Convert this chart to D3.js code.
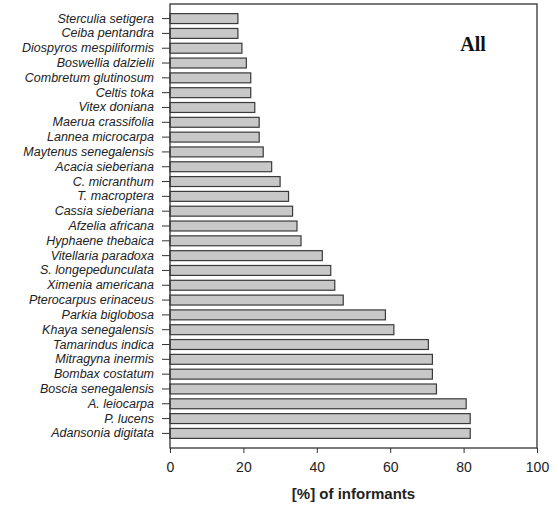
<!DOCTYPE html>
<html>
<head>
<meta charset="utf-8">
<script src="https://cdn.jsdelivr.net/npm/d3@7"></script>
<style>
  body { margin: 0; background: #fff; }
  svg { display: block; }
</style>
</head>
<body>
<div class="graph"></div>
<script>
// species, top to bottom
var species = [
    "Sterculia setigera", "Ceiba pentandra", "Diospyros mespiliformis", "Boswellia dalzielii",
    "Combretum glutinosum", "Celtis toka", "Vitex doniana", "Maerua crassifolia",
    "Lannea microcarpa", "Maytenus senegalensis", "Acacia sieberiana", "C. micranthum",
    "T. macroptera", "Cassia sieberiana", "Afzelia africana", "Hyphaene thebaica",
    "Vitellaria paradoxa", "S. longepedunculata", "Ximenia americana", "Pterocarpus erinaceus",
    "Parkia biglobosa", "Khaya senegalensis", "Tamarindus indica", "Mitragyna inermis",
    "Bombax costatum", "Boscia senegalensis", "A. leiocarpa", "P.  lucens", "Adansonia digitata"
];
// % of informants
var percent = [
    18.5, 18.5, 19.6, 20.8,
    22.0, 22.0, 23.1, 24.3,
    24.3, 25.4, 27.7, 30.0,
    32.3, 33.4, 34.6, 35.7,
    41.5, 43.8, 44.9, 47.2,
    58.7, 61.0, 70.4, 71.5,
    71.5, 72.6, 80.7, 81.8, 81.8
];
var xTicks = [0, 20, 40, 60, 80, 100];

var svgWidth = 558, svgHeight = 507;
var margin = {top: 4, right: 21, bottom: 59, left: 170};
var width = svgWidth - margin.left - margin.right;
var height = svgHeight - margin.top - margin.bottom;

var data = species.map(function (s, i) { return {name: s, value: percent[i]}; });

var svg = d3.select("div.graph").append("svg")
    .attr("width", svgWidth)
    .attr("height", svgHeight);

var g = svg.append("g")
    .attr("transform", "translate(" + margin.left + "," + margin.top + ")");

var x = d3.scaleLinear().domain([0, 100]).range([0, width]);
var y = d3.scaleBand().domain(species).range([0, height])
    .paddingInner(0.33).paddingOuter(0.65);

// bars
g.selectAll("rect.bar")
    .data(data)
    .enter().append("rect")
    .attr("class", "bar")
    .attr("x", x(0))
    .attr("y", function (d) { return y(d.name); })
    .attr("width", function (d) { return x(d.value) - x(0); })
    .attr("height", y.bandwidth())
    .attr("fill", "#c8c8c8")
    .attr("stroke", "#3a3a3a")
    .attr("stroke-width", 1.2);

// frame
g.append("rect")
    .attr("x", 0).attr("y", 0)
    .attr("width", width).attr("height", height)
    .attr("fill", "none")
    .attr("stroke", "#333")
    .attr("stroke-width", 1.3);

var xAxis = g.append("g")
    .attr("transform", "translate(0," + height + ")")
    .call(d3.axisBottom(x).tickValues(xTicks).tickSize(5).tickPadding(9));
xAxis.select(".domain").remove();
xAxis.selectAll("line").attr("stroke", "#333");
xAxis.selectAll("text")
    .attr("font-family", "Liberation Sans, Arial, sans-serif")
    .attr("font-size", 14)
    .attr("fill", "#222");

var yAxis = g.append("g")
    .call(d3.axisLeft(y).tickSize(8).tickPadding(8));
yAxis.select(".domain").remove();
yAxis.selectAll("line").attr("stroke", "#333");
yAxis.selectAll("text")
    .attr("font-family", "Liberation Sans, Arial, sans-serif")
    .attr("font-style", "italic")
    .attr("font-size", 12.5)
    .attr("fill", "#222");

g.append("text")
    .attr("x", width / 2)
    .attr("y", height + 51)
    .attr("text-anchor", "middle")
    .attr("font-family", "Liberation Sans, Arial, sans-serif")
    .attr("font-weight", "bold")
    .attr("font-size", 15)
    .attr("fill", "#222")
    .text("[%] of informants");

g.append("text")
    .attr("x", width - 64)
    .attr("y", 47)
    .attr("text-anchor", "middle")
    .attr("font-family", "Liberation Serif, Times New Roman, serif")
    .attr("font-weight", "bold")
    .attr("font-size", 20)
    .attr("fill", "#111")
    .text("All");
</script>
</body>
</html>
